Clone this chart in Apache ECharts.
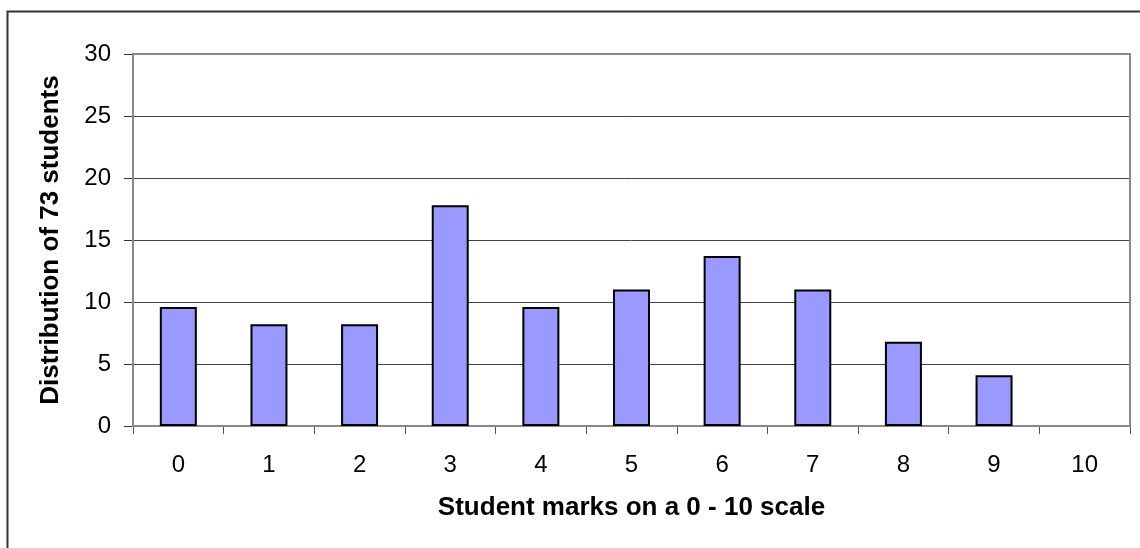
<!DOCTYPE html>
<html>
<head>
<meta charset="utf-8">
<script src="https://cdn.jsdelivr.net/npm/echarts@6/dist/echarts.min.js"></script>
<style>
  html, body { margin: 0; padding: 0; background: #fff; }
  #chart { width: 1140px; height: 548px; }
</style>
</head>
<body>
<div id="chart"></div>
<script>
const marks = ['0', '1', '2', '3', '4', '5', '6', '7', '8', '9', '10'];
const shares = [9.6, 8.2, 8.2, 17.8, 9.6, 11.0, 13.7, 11.0, 6.8, 4.1, 0];

const chart = echarts.init(document.getElementById('chart'));
const font = 'Liberation Sans, Arial, sans-serif';

// an empty bar should not leave a flat outline on the axis
const barData = shares.map((v) => (v > 0 ? v : { value: v, itemStyle: { borderWidth: 0 } }));

chart.setOption({
  backgroundColor: '#fff',
  animation: false,
  graphic: [
    {
      type: 'rect',
      shape: { x: 7.5, y: 11.5, width: 1200, height: 600 },
      style: { fill: 'none', stroke: '#333', lineWidth: 2 },
      silent: true,
    },
    {
      type: 'rect',
      shape: { x: 133, y: 54, width: 997, height: 372 },
      style: { fill: 'none', stroke: '#888', lineWidth: 2 },
      silent: true,
      z: 1,
    },
  ],
  grid: { left: 133, right: 10, top: 54, bottom: 122, containLabel: false },
  xAxis: {
    type: 'category',
    data: marks,
    name: 'Student marks on a 0 - 10 scale',
    nameLocation: 'middle',
    nameGap: 69,
    nameTextStyle: { fontFamily: font, fontSize: 26, fontWeight: 'bold', color: '#000' },
    axisLine: { lineStyle: { color: '#555', width: 1.5 } },
    axisTick: { show: true, alignWithLabel: false, length: 8, lineStyle: { color: '#555' } },
    axisLabel: { fontFamily: font, fontSize: 24, color: '#000', margin: 27 },
  },
  yAxis: {
    type: 'value',
    min: 0,
    max: 30,
    interval: 5,
    name: 'Distribution of 73 students',
    nameLocation: 'middle',
    nameGap: 69,
    nameTextStyle: { fontFamily: font, fontSize: 26, fontWeight: 'bold', color: '#000' },
    axisLine: { show: true, lineStyle: { color: '#555', width: 1.5 } },
    axisTick: { show: true, length: 9, inside: false, lineStyle: { color: '#333' } },
    axisLabel: { fontFamily: font, fontSize: 24, color: '#000', margin: 22 },
    splitLine: { lineStyle: { color: '#444', width: 1 } },
  },
  series: [
    {
      type: 'bar',
      data: barData,
      barWidth: 37,
      itemStyle: { color: '#9999ff', borderColor: '#000', borderWidth: 2 },
      z: 3,
    },
  ],
});
</script>
</body>
</html>
